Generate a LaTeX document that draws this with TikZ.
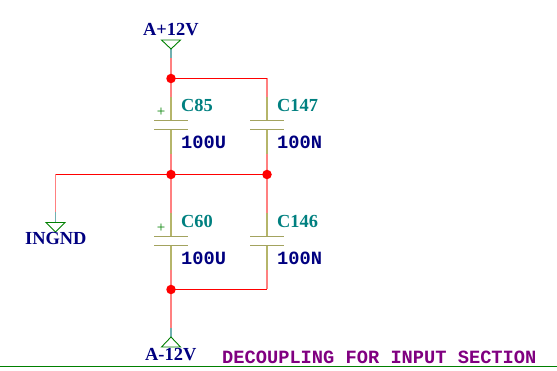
\documentclass[tikz,border=0pt]{standalone}
\usepackage{fontspec}
\setmainfont{Liberation Serif}
\setmonofont{Liberation Mono}
\usetikzlibrary{positioning}
\definecolor{netred}{HTML}{FF0000}
\definecolor{pinred}{HTML}{FF8080}
\definecolor{pinteal}{HTML}{70B0B0}
\definecolor{capolive}{HTML}{B5B56A}
\definecolor{symgreen}{HTML}{008000}
\definecolor{reftext}{HTML}{008080}
\definecolor{valtext}{HTML}{000080}
\definecolor{notetext}{HTML}{800080}
\tikzset{
  netwire/.style={color=netred, line width=1pt},
  pinlead/.style={color=pinred, line width=1.4pt},
  stub/.style={color=pinteal, line width=1.4pt},
  caplead/.style={color=capolive, line width=1.4pt},
  plate/.style={color=capolive!90!black, line width=1pt},
  supply/.style={color=symgreen, line width=0.9pt},
  dot/.style={circle, fill=netred, inner sep=0pt, minimum size=9.5pt},
  nametext/.style={anchor=base west, inner sep=0pt, font=\bfseries\fontsize{18.4}{18}\selectfont},
  reflabel/.style={nametext, text=reftext},
  powerlabel/.style={nametext, text=valtext},
  vallabel/.style={anchor=base west, inner sep=0pt, text=valtext, font=\ttfamily\bfseries\fontsize{18.7}{18}\selectfont},
  polarity/.style={text=symgreen, inner sep=0pt, font=\fontsize{15}{15}\selectfont}
}
% one capacitor body, #1 is its name, #2 the x and #3 the y of the upper plate
\newcommand{\capbody}[3]{
  \coordinate (#1a) at (#2,#3-23);
  \coordinate (#1p) at (#2,#3);
  \coordinate (#1n) at (#2,#3+9);
  \coordinate (#1b) at (#2,#3+34);
  \draw[caplead] (#1a) -- (#1p);
  \draw[caplead] (#1n) -- (#1b);
  \draw[plate] ([xshift=-17pt]#1p) -- ([xshift=17pt]#1p);
  \draw[plate] ([xshift=-17pt]#1n) -- ([xshift=17pt]#1n);
}
\begin{document}
\begin{tikzpicture}[x=1pt,y=-1pt]
\useasboundingbox (0,0) rectangle (557,371);

\coordinate (jtop) at (171,78.5);
\coordinate (jtopr) at (267,78.5);
\coordinate (jmid) at (171,174.5);
\coordinate (jmidr) at (267,174.5);
\coordinate (jbot) at (171,289.5);
\coordinate (jbotr) at (267,289.5);
\coordinate (gndcorner) at (55.5,174.5);
\coordinate (vcc) at (171,49);
\coordinate (vccstub) at (171,58);
\coordinate (gnd) at (55.5,232);
\coordinate (gndtop) at (55.5,222);
\coordinate (gndstub) at (55.5,212);
\coordinate (vee) at (171,337);
\coordinate (veestub) at (171,328);

\capbody{cef}{171}{120.5}
\capbody{cfs}{267}{120.5}
\capbody{csx}{171}{236.5}
\capbody{cfx}{267}{236.5}

% leads
\draw[pinlead] (vccstub) -- (jtop);
\draw[pinlead] (jtop) -- (cefa);
\draw[pinlead] (jtopr) -- (cfsa);
\draw[pinlead] (cefb) -- (jmid);
\draw[pinlead] (cfsb) -- (jmidr);
\draw[pinlead] (jmid) -- (csxa);
\draw[pinlead] (jmidr) -- (cfxa);
\draw[pinlead] (csxb) -- (jbot);
\draw[pinlead] (cfxb) -- (jbotr);
\draw[pinlead] (jbot) -- (veestub);
\draw[pinlead] (gndcorner) -- (gndstub);
\draw[stub] (vcc) -- (vccstub);
\draw[stub] (gndstub) -- (gndtop);
\draw[stub] (veestub) -- (vee);

% nets
\draw[netwire] (jtop) -- (jtopr);
\draw[netwire] (gndcorner) -- (jmid) -- (jmidr);
\draw[netwire] (jbot) -- (jbotr);

\node[dot] (dtop) at (jtop) {};
\node[dot] (dmid) at (jmid) {};
\node[dot] (dmidr) at (jmidr) {};
\node[dot] (dbot) at (jbot) {};

% power symbols
\draw[supply] (vcc) -- ++(-9.5,-9) -- ++(19,0) -- cycle;
\draw[supply] (gnd) -- ++(-9.5,-9.5) -- ++(19,0) -- cycle;
\draw[supply] (vee) -- ++(-9.5,10) -- ++(19,0) -- cycle;
\draw[color=symgreen, line width=1pt] (0,366.5) -- (557,366.5);

\node[powerlabel] (lvcc) at (143,36) {A+12V};
\node[powerlabel] (lgnd) at (25,245) {INGND};
\node[powerlabel] (lvee) at (145,360) {A-12V};

\node[reflabel] (rcef) at (181,112) {C85};
\node[reflabel] (rcfs) at (277,112) {C147};
\node[reflabel] (rcsx) at (181,228) {C60};
\node[reflabel] (rcfx) at (277,228) {C146};

\node[vallabel] (vcef) at (181,148.5) {100U};
\node[vallabel] (vcfs) at (277,148.5) {100N};
\node[vallabel] (vcsx) at (181,264.5) {100U};
\node[vallabel] (vcfx) at (277,264.5) {100N};

\node[polarity] (pcef) at (161,112) {+};
\node[polarity] (pcsx) at (161,228) {+};

\node[vallabel, text=notetext] (title) at (222,363) {DECOUPLING FOR INPUT SECTION};
\end{tikzpicture}
\end{document}
